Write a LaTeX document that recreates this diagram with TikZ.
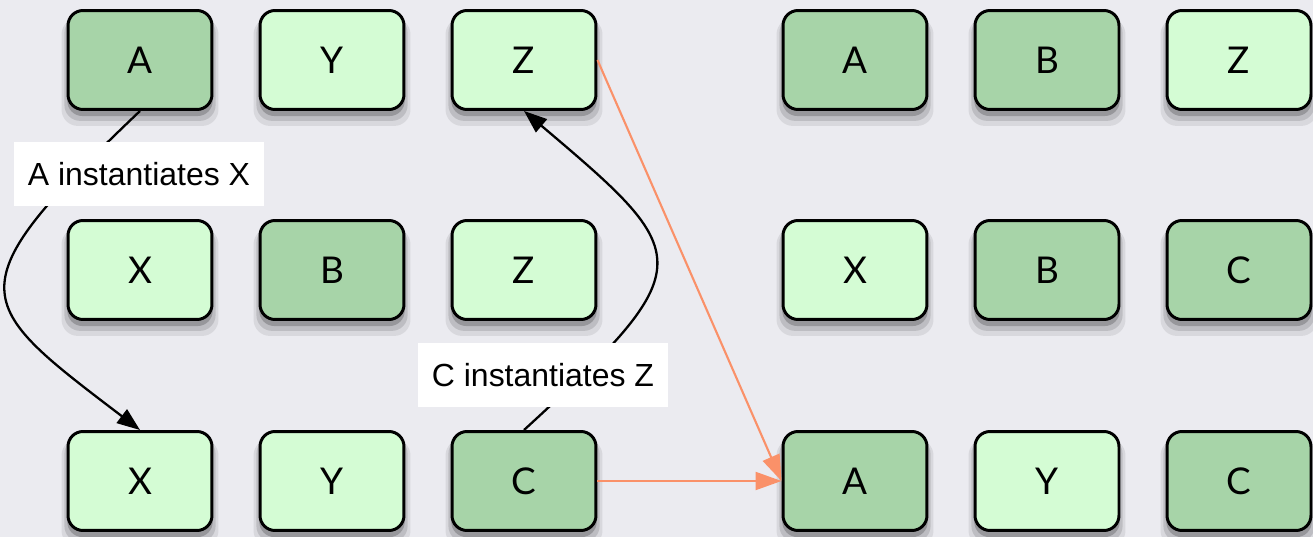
\documentclass[tikz,border=0pt]{standalone}
\usepackage{fontspec}
\setmainfont{Liberation Sans}
\newfontfamily\cellfont{Lato}
\usetikzlibrary{shapes, arrows.meta, shadows}

\definecolor{bgcol}{RGB}{235,235,240}
\definecolor{darkgreen}{RGB}{167,212,168}
\definecolor{lightgreen}{RGB}{212,252,212}
\definecolor{linkorange}{RGB}{250,145,105}

\begin{document}
\begin{tikzpicture}[x=0.02cm, y=-0.02cm,
    cell/.style={draw=black, line width=1.7pt, rounded corners=0.3cm,
        minimum width=2.88cm, minimum height=1.98cm, inner sep=0pt,
        font=\cellfont\fontsize{21}{25}\selectfont,
        general shadow={fill=black, opacity=0.08, shadow yshift=-0.22cm, shadow scale=1.09},
        general shadow={fill=black, opacity=0.12, shadow yshift=-0.17cm, shadow scale=1.05},
        general shadow={fill=black, opacity=0.2, shadow yshift=-0.12cm, shadow scale=1.01}},
    dark/.style={cell, fill=darkgreen},
    light/.style={cell, fill=lightgreen},
    note/.style={fill=white, minimum width=5cm, minimum height=1.28cm, inner sep=0pt,
        font=\fontsize{18.2}{22}\selectfont},
    link/.style={line width=1.3pt, -{Triangle[length=0.46cm, width=0.34cm]}},
    copy/.style={draw=linkorange, line width=1.2pt, -{Triangle[length=0.52cm, width=0.36cm]}}]

    % Background
    \fill[bgcol] (0,0) rectangle (1313,537);
    \useasboundingbox (0,0) rectangle (1313,537);

    % Left grid
    \node[dark]  (lA)  at (140,60)  {A};
    \node[light] (lY)  at (332,60)  {Y};
    \node[light] (lZ)  at (524,60)  {Z};
    \node[light] (lX)  at (140,270) {X};
    \node[dark]  (lB)  at (332,270) {B};
    \node[light] (lZ2) at (524,270) {Z};
    \node[light] (lX2) at (140,481) {X};
    \node[light] (lY2) at (332,481) {Y};
    \node[dark]  (lC)  at (524,481) {C};

    % Right grid
    \node[dark]  (rA)  at (855,60)   {A};
    \node[dark]  (rB)  at (1047,60)  {B};
    \node[light] (rZ)  at (1239,60)  {Z};
    \node[light] (rX)  at (855,270)  {X};
    \node[dark]  (rB2) at (1047,270) {B};
    \node[dark]  (rC)  at (1239,270) {C};
    \node[dark]  (rA2) at (855,481)  {A};
    \node[light] (rY2) at (1047,481) {Y};
    \node[dark]  (rC2) at (1239,481) {C};

    % Instantiation curves
    \draw[link] (lA.south) .. controls (-48,290) and (-28,302) .. (lX2.north);
    \draw[link] (lC.north) .. controls (704,265) and (694,255) .. (lZ.south);

    % Labels (on top of the curves)
    \node[note] (noteAX) at (139,174) {A instantiates X};
    \node[note] (noteCZ) at (543,375) {C instantiates Z};

    % Copies into the right grid
    \draw[copy] (lZ.east) -- (rA2.west);
    \draw[copy] (lC.east) -- (rA2.west);
\end{tikzpicture}
\end{document}
